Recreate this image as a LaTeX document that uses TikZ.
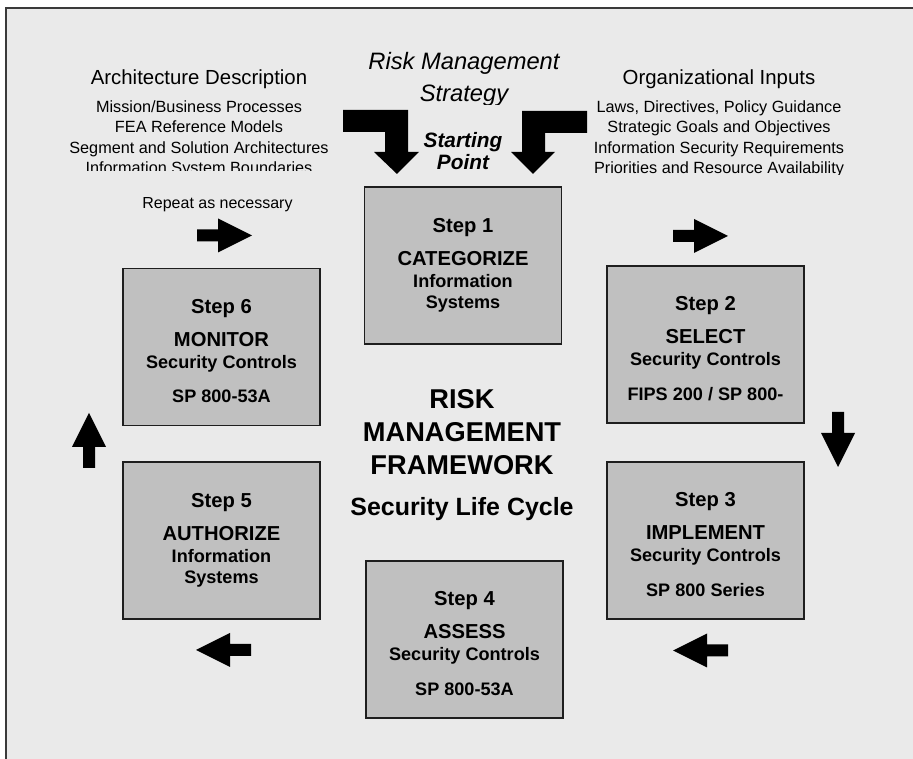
\documentclass[tikz,border=0pt]{standalone}
\usepackage{fontspec}
\setmainfont{Liberation Sans}

\definecolor{pagegray}{HTML}{EAEAEA}
\definecolor{framegray}{HTML}{3A3A3A}
\definecolor{boxgray}{HTML}{C0C0C0}
\definecolor{boxline}{HTML}{1E1E1E}

\newcommand{\bigline}{\fontsize{11.5}{13}\selectfont}
\newcommand{\tallstrut}{\rule{0pt}{12.8pt}}

\begin{document}
\begin{tikzpicture}[x=0.02cm,y=-0.02cm,
	stepbox/.style={draw=boxline,line width=1pt,fill=boxgray,
		minimum width=3.94cm,minimum height=3.14cm,inner sep=0pt,
		align=center,font=\bfseries\fontsize{10.3}{12.5}\selectfont},
	headtext/.style={font=\fontsize{11.6}{14}\selectfont},
	listtext/.style={align=center,font=\fontsize{9.25}{11.6}\selectfont},
	cyclearrow/.pic={\fill (0,-6)--(21,-6)--(21,-17)--(55,0)--(21,17)--(21,6)--(0,6)--cycle;}]
	
	\useasboundingbox (0,0) rectangle (913,759);
	\fill[pagegray] (6,8) rectangle (913,759);
	\draw[line width=1.1pt,framegray] (913,8)--(6,8)--(6,759);
	
	% inputs on the left
	\node[headtext,anchor=base] (archhead) at (199,85) {Architecture Description};
	\begin{scope}
		\clip (0,95) rectangle (400,171);
		\node[listtext,anchor=base] (archlist) at (199,173.5) {Mission/Business Processes\\FEA Reference Models\\Segment and Solution Architectures\\Information System Boundaries};
	\end{scope}
	
	% inputs on the right
	\node[headtext,anchor=base] (orghead) at (719,85) {Organizational Inputs};
	\begin{scope}
		\clip (560,95) rectangle (913,175);
		\node[listtext,anchor=base] (orglist) at (719,173.5) {Laws, Directives, Policy Guidance\\Strategic Goals and Objectives\\Information Security Requirements\\Priorities and Resource Availability};
	\end{scope}
	
	% strategy
	\begin{scope}
		\clip (330,30) rectangle (600,105);
		\node[align=center,anchor=base,font=\itshape\fontsize{13.5}{18.7}\selectfont] (strategy) at (464,102) {Risk Management\\Strategy};
	\end{scope}
	\node[align=center,anchor=base,font=\bfseries\itshape\fontsize{11.85}{12.8}\selectfont] (start) at (463,170) {Starting\\Point};
	
	\fill (343,110)--(408,110)--(408,152)--(419,152)--(397,174)--(374,152)--(385,152)--(385,132)--(343,132)--cycle;
	\fill (587,111)--(522,111)--(522,152)--(511,152)--(533,174)--(555,152)--(545,152)--(545,133)--(587,133)--cycle;
	
	% the six steps
	\node[stepbox] (step1) at (463,265.5) {{\bigline Step 1}\\[6.2pt]{\bigline CATEGORIZE}\\Information\\[-0.8pt]Systems};
	\node[stepbox] (step2) at (705.5,344.5) {{\bigline\tallstrut Step 2}\\[6.2pt]{\bigline SELECT}\\Security Controls\\[7.3pt]FIPS 200 / SP 800-};
	\node[stepbox] (step3) at (705.5,540.5) {{\bigline\tallstrut Step 3}\\[6.2pt]{\bigline IMPLEMENT}\\Security Controls\\[7.3pt]SP 800 Series};
	\node[stepbox] (step4) at (464.5,639.5) {{\bigline\tallstrut Step 4}\\[6.2pt]{\bigline ASSESS}\\Security Controls\\[7.3pt]SP 800-53A};
	\node[stepbox] (step5) at (221.5,540.5) {{\bigline Step 5}\\[6.2pt]{\bigline AUTHORIZE}\\Information\\[-0.8pt]Systems};
	\node[stepbox] (step6) at (221.5,347) {{\bigline\tallstrut Step 6}\\[6.2pt]{\bigline MONITOR}\\Security Controls\\[7.3pt]SP 800-53A};
	
	% centre
	\node[align=center,anchor=base,font=\bfseries\fontsize{15.5}{18.7}\selectfont] (rmf) at (462,516) {RISK\\MANAGEMENT\\FRAMEWORK\\[5.1pt]{\fontsize{14.2}{17}\selectfont Security Life Cycle}};
	
	% cycle arrows
	\node[anchor=base,font=\fontsize{9.1}{11}\selectfont] (repeat) at (217.5,209) {Repeat as necessary};
	\pic at (197,235.5) {cyclearrow};
	\pic at (673,236) {cyclearrow};
	\pic[rotate=-90] at (838,412) {cyclearrow};
	\pic[rotate=180] at (728,650.5) {cyclearrow};
	\pic[rotate=180] at (251,650) {cyclearrow};
	\pic[rotate=90] at (89,468) {cyclearrow};
\end{tikzpicture}
\end{document}
